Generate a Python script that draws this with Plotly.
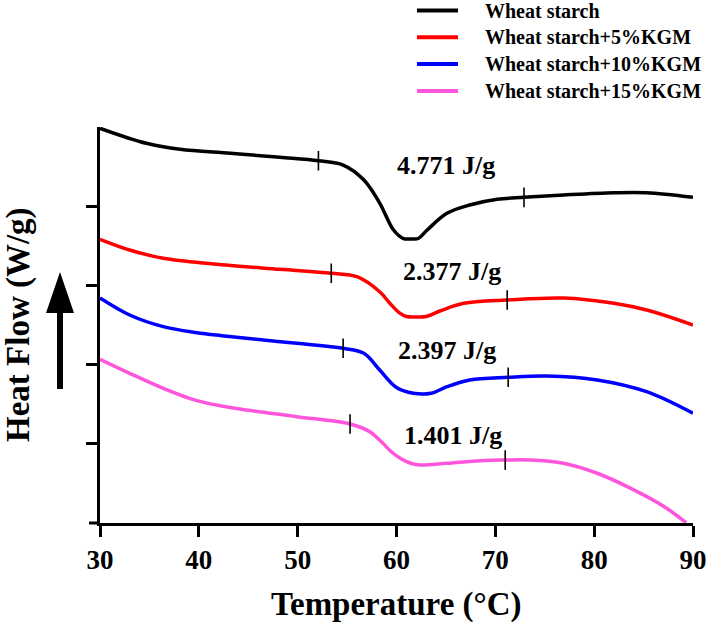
import plotly.graph_objects as go

# ---------------- data ----------------
names = ["Wheat starch", "Wheat starch+5%KGM", "Wheat starch+10%KGM", "Wheat starch+15%KGM"]
colors = ["#000000", "#FF0000", "#0000FF", "#FF55DD"]

t_ws = [30, 34.7, 38.1, 43.2, 48.2, 52.1, 54.6, 56.7, 58.3, 59.7, 60.7, 61.5, 62.2, 63.1, 65.1, 67.4, 70.2, 72.9, 76.9, 82.0, 85.3, 90]
hf_ws = [4.984, 4.794, 4.718, 4.668, 4.617, 4.574, 4.520, 4.331, 4.040, 3.699, 3.592, 3.586, 3.592, 3.699, 3.910, 4.015, 4.087, 4.112, 4.141, 4.170, 4.170, 4.112]

t_5 = [30, 33, 36.4, 41.5, 48.2, 53.4, 56, 58.3, 59.3, 60.3, 61, 62, 63, 64.4, 66.8, 71.2, 76.9, 82, 85.3, 90]
hf_5 = [3.582, 3.447, 3.342, 3.270, 3.203, 3.153, 3.110, 2.920, 2.778, 2.652, 2.607, 2.601, 2.607, 2.677, 2.774, 2.816, 2.841, 2.774, 2.689, 2.500]

t_10 = [30, 33, 36.4, 39.8, 42.3, 44.8, 49.9, 54.6, 56.7, 58.3, 60, 61.7, 63.5, 65.1, 67.4, 71.3, 75.2, 80.3, 85.3, 90]
hf_10 = [2.841, 2.626, 2.479, 2.403, 2.365, 2.332, 2.269, 2.206, 2.143, 1.932, 1.711, 1.638, 1.638, 1.721, 1.806, 1.840, 1.856, 1.806, 1.658, 1.385]

t_15 = [30, 33, 36.4, 39.8, 42.3, 44.8, 49.9, 55.3, 57.3, 58.5, 59.5, 60.5, 61.5, 62.4, 65.1, 68.5, 71, 73.5, 76.9, 80.3, 83.7, 87.1, 89.3]
hf_15 = [2.067, 1.890, 1.701, 1.545, 1.477, 1.427, 1.342, 1.250, 1.153, 1.023, 0.896, 0.808, 0.751, 0.732, 0.754, 0.787, 0.795, 0.795, 0.754, 0.628, 0.438, 0.206, 0.004]

# onset / end markers (temperature, heat flow)
mark_t = [52.1, 72.9, 53.4, 71.2, 54.6, 71.3, 55.3, 71.0]
mark_hf = [4.574, 4.112, 3.153, 2.816, 2.206, 1.840, 1.250, 0.795]

# enthalpy labels
dh_text = ["4.771 J/g", "2.377 J/g", "2.397 J/g", "1.401 J/g"]
dh_t = [65.0, 65.6, 65.1, 65.7]
dh_hf = [4.52, 3.17, 2.18, 1.11]

x_ticks = [30, 40, 50, 60, 70, 80, 90]
y_ticks = [1, 2, 3, 4]

# ---------------- figure ----------------
W, H = 709, 624
ML, MR, MT, MB = 100, 16, 127, 101
PW, PH = W - ML - MR, H - MT - MB
FONT = "Liberation Serif, Times New Roman, serif"


def px_x(px):
    return (px - ML) / PW


def px_y(py):
    return (H - MB - py) / PH


fig = go.Figure()
series = [(t_ws, hf_ws), (t_5, hf_5), (t_10, hf_10), (t_15, hf_15)]
for (t, hf), name, c in zip(series, names, colors):
    fig.add_trace(go.Scatter(x=t, y=hf, mode="lines", name=name,
                             line=dict(color=c, width=3.5, shape="spline", smoothing=1.0),
                             showlegend=False))

fig.add_trace(go.Scatter(x=mark_t, y=mark_hf, mode="markers", showlegend=False,
                         marker=dict(symbol="line-ns", size=14,
                                     line=dict(color="black", width=1.6))))

annotations = []
for txt, t, hf in zip(dh_text, dh_t, dh_hf):
    annotations.append(dict(x=t, y=hf, xref="x", yref="y", text=txt, showarrow=False,
                            font=dict(family=FONT, size=26, color="black", weight="bold")))

# manual legend
shapes = []
for i, (name, c) in enumerate(zip(names, colors)):
    yy = px_y(10.5 + 26.8 * i)
    shapes.append(dict(type="line", xref="paper", yref="paper",
                       x0=px_x(417), x1=px_x(458), y0=yy, y1=yy,
                       line=dict(color=c, width=4)))
    annotations.append(dict(x=px_x(483), y=yy, xref="paper", yref="paper", text=name,
                            showarrow=False, xanchor="left", yanchor="middle",
                            font=dict(family=FONT, size=20, color="black", weight="bold")))

# axis titles
annotations.append(dict(x=0.5, y=0, xref="paper", yref="paper", yshift=-81,
                        text="Temperature (°C)", showarrow=False, yanchor="middle",
                        font=dict(family=FONT, size=33, color="black", weight="bold")))
annotations.append(dict(x=0, y=0.5, xref="paper", yref="paper", xshift=-82,
                        text="Heat Flow (W/g)", showarrow=False, textangle=-90,
                        xanchor="center", yanchor="middle",
                        font=dict(family=FONT, size=33, color="black", weight="bold")))

# arrow next to y title
shapes.append(dict(type="path", xref="paper", yref="paper", xsizemode="pixel", ysizemode="pixel",
                   xanchor=0, yanchor=0.5,
                   path="M -40,53 L -26,12 L -37,12 L -37,-64 L -43,-64 L -43,12 L -54,12 Z",
                   fillcolor="black", line=dict(color="black", width=0)))

# x-axis line overhang to the left of the y axis
shapes.append(dict(type="line", xref="paper", yref="paper", x0=px_x(89), x1=0, y0=0, y1=0,
                   line=dict(color="black", width=3)))

fig.update_layout(
    template="none",
    width=W, height=H,
    margin=dict(l=ML, r=MR, t=MT, b=MB, autoexpand=False),
    plot_bgcolor="white", paper_bgcolor="white",
    showlegend=False,
    annotations=annotations, shapes=shapes,
    xaxis=dict(range=[30, 90], tickvals=x_ticks, showgrid=False, zeroline=False,
               automargin=False,
               showline=True, linecolor="black", linewidth=3,
               ticks="outside", ticklen=11, tickwidth=3, tickcolor="black",
               tickfont=dict(family=FONT, size=27, color="black", weight="bold")),
    yaxis=dict(range=[0, 5], tickvals=y_ticks, ticktext=["", "", "", ""], showgrid=False,
               automargin=False,
               zeroline=False, showline=True, linecolor="black", linewidth=3,
               ticks="outside", ticklen=11, tickwidth=3, tickcolor="black"),
)

fig.write_html("out.html", config={"displayModeBar": False},
               post_script="document.body.style.margin='0';document.body.style.padding='0';document.body.style.overflow='hidden';")
